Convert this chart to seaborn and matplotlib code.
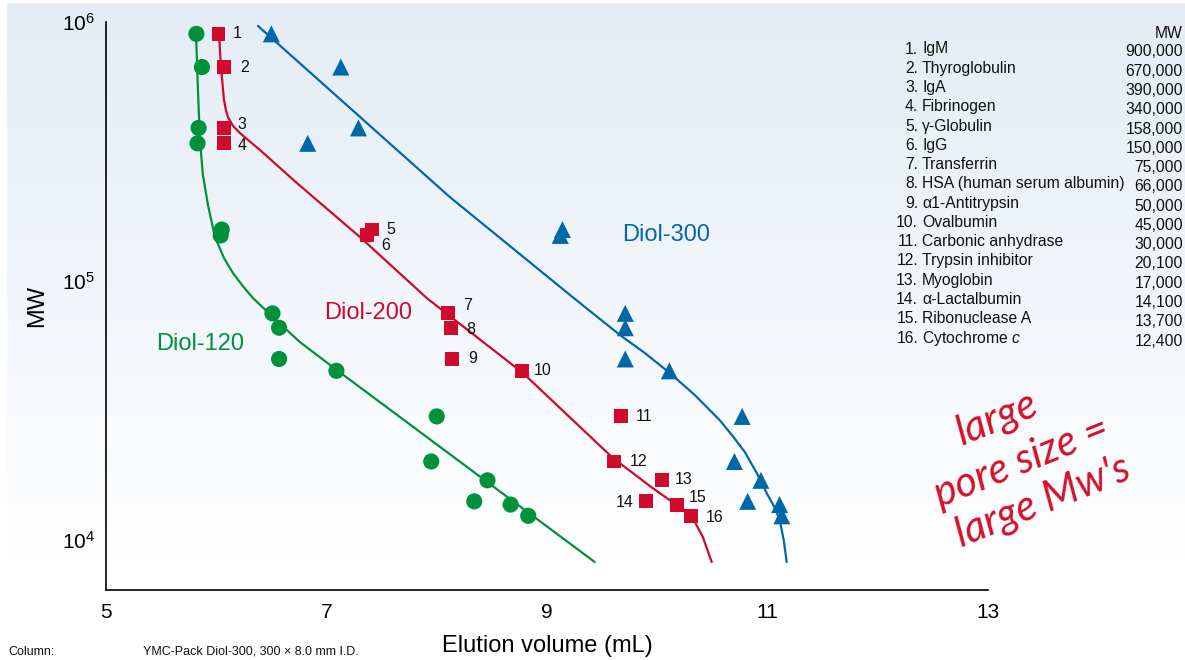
import numpy as np
import pandas as pd
import matplotlib
matplotlib.use("Agg")
import matplotlib.pyplot as plt
import seaborn as sns
from matplotlib.ticker import FixedLocator, NullLocator

# ---------------- data ----------------
proteins = ["IgM", "Thyroglobulin", "IgA", "Fibrinogen", "γ-Globulin", "IgG",
            "Transferrin", "HSA (human serum albumin)", "α1-Antitrypsin",
            "Ovalbumin", "Carbonic anhydrase", "Trypsin inhibitor", "Myoglobin",
            "α-Lactalbumin", "Ribonuclease A", r"Cytochrome $\mathit{c}$"]
mw = [900000, 670000, 390000, 340000, 158000, 150000, 75000, 66000, 50000,
      45000, 30000, 20100, 17000, 14100, 13700, 12400]
mw_text = ["900,000", "670,000", "390,000", "340,000", "158,000", "150,000",
           "75,000", "66,000", "50,000", "45,000", "30,000", "20,100",
           "17,000", "14,100", "13,700", "12,400"]

# elution volumes (mL) of each protein on the three columns
vol_diol120 = [5.82, 5.87, 5.84, 5.83, 6.05, 6.04, 6.51, 6.57, 6.57, 7.09,
               8.00, 7.95, 8.46, 8.34, 8.67, 8.83]
vol_diol200 = [6.02, 6.07, 6.07, 6.07, 7.41, 7.37, 8.10, 8.13, 8.14, 8.77,
               9.67, 9.61, 10.04, 9.90, 10.18, 10.31]
vol_diol300 = [6.50, 7.13, 7.29, 6.83, 9.14, 9.12, 9.71, 9.71, 9.71, 10.11,
               10.77, 10.70, 10.94, 10.82, 11.11, 11.13]

# calibration curves: elution volume vs log10(MW)
curve120_vol = [5.816, 5.825, 5.834, 5.852, 5.879, 5.925, 5.988, 6.070, 6.151,
                6.242, 6.333, 6.514, 6.759, 7.094, 9.433]
curve120_logmw = [5.961, 5.850, 5.737, 5.544, 5.409, 5.293, 5.170, 5.089,
                  5.031, 4.980, 4.934, 4.861, 4.764, 4.656, 3.915]
curve200_vol = [6.024, 6.043, 6.070, 6.088, 6.106, 6.150, 6.215, 6.396, 6.732,
                7.303, 7.910, 8.781, 9.597, 9.950, 10.113, 10.222, 10.322,
                10.413, 10.494]
curve200_logmw = [5.961, 5.826, 5.699, 5.660, 5.633, 5.600, 5.571, 5.506,
                  5.378, 5.170, 4.934, 4.645, 4.317, 4.203, 4.154, 4.122,
                  4.085, 4.012, 3.915]
curve300_vol = [6.378, 8.119, 9.252, 9.660, 9.887, 10.113, 10.340, 10.566,
                10.685, 10.794, 10.902, 10.993, 11.066, 11.111, 11.147, 11.174]
curve300_logmw = [5.985, 5.324, 4.931, 4.792, 4.722, 4.645, 4.560, 4.463,
                  4.401, 4.340, 4.259, 4.181, 4.124, 4.077, 4.000, 3.915]

# label offsets (pixels) for the numbered Diol-200 points
label_dx = [14, 16, 13, 14, 15, 14, 15, 15, 16, 12, 15, 15, 13, -13, 12, 14]
label_dy = [0, 0, 3, -2, 0, -10, 8, -2, 0, 0, 0, 0, 1, -1, 7, -2]

# ---------------- style ----------------
GREEN = "#00913b"
RED = "#cf0a2c"
BLUE = "#0068a9"
W, H = 1185, 660

sns.set_theme(style="white")
plt.rcParams["font.family"] = ["Liberation Sans", "DejaVu Sans"]
plt.rcParams["mathtext.fontset"] = "custom"
plt.rcParams["mathtext.rm"] = "Liberation Sans"
plt.rcParams["mathtext.it"] = "Liberation Sans:italic"
plt.rcParams["mathtext.bf"] = "Liberation Sans:bold"


def fx(px):
    return px / W


def fy(py):
    return 1 - py / H


fig = plt.figure(figsize=(W / 100, H / 100), dpi=100)
fig.patch.set_facecolor("white")

# soft blue background fading to white
bg = fig.add_axes([fx(7), 0, 1 - fx(7), fy(3)], zorder=-5)
grad = np.linspace(0, 1, 256)[:, None]
top = np.array([0.894, 0.925, 0.961])
bot = np.array([1.0, 1.0, 1.0])
t = np.clip(grad / 0.85, 0, 1)
img = top[None, None, :] * (1 - t[..., None]) + bot[None, None, :] * t[..., None]
bg.imshow(img, aspect="auto", extent=[0, 1, 0, 1], origin="upper")
bg.set_axis_off()

ax = fig.add_axes([fx(106), fy(590), fx(988) - fx(106), fy(22) - fy(590)])
ax.set_facecolor("none")

# calibration curves
for vols, logs, col in [(curve120_vol, curve120_logmw, GREEN),
                        (curve200_vol, curve200_logmw, RED),
                        (curve300_vol, curve300_logmw, BLUE)]:
    sns.lineplot(x=vols, y=10 ** np.array(logs), sort=False, estimator=None,
                 color=col, lw=1.6, ax=ax, zorder=2)
for ln in ax.lines:
    ln.set_solid_joinstyle("round")

# measured points
sns.scatterplot(x=vol_diol120, y=mw, marker="o", s=135, color=GREEN,
                edgecolor="none", ax=ax, zorder=3)
sns.scatterplot(x=vol_diol200, y=mw, marker="s", s=100, color=RED,
                edgecolor="none", ax=ax, zorder=3)
sns.scatterplot(x=vol_diol300, y=mw, marker="^", s=150, color=BLUE,
                edgecolor="none", ax=ax, zorder=3)

for i, (v, m) in enumerate(zip(vol_diol200, mw)):
    ax.annotate(str(i + 1), (v, m), xytext=(label_dx[i], label_dy[i]),
                textcoords="offset pixels", ha="left" if label_dx[i] > 0 else "right",
                va="center", fontsize=11.5, color="#111111", zorder=4)

ax.text(9.678, 150600, "Diol-300", color=BLUE, fontsize=17, ha="left", va="center")
ax.text(6.974, 75200, "Diol-200", color=RED, fontsize=17, ha="left", va="center")
ax.text(5.453, 57200, "Diol-120", color=GREEN, fontsize=17, ha="left", va="center")

ax.set_yscale("log")
ax.set_xlim(5, 13)
ax.set_ylim(10 ** 3.807, 1e6)
ax.xaxis.set_major_locator(FixedLocator([5, 7, 9, 11, 13]))
ax.set_xticklabels(["5", "7", "9", "11", "13"])
ax.yaxis.set_major_locator(FixedLocator([1e4, 1e5, 1e6]))
ax.yaxis.set_minor_locator(NullLocator())
ax.set_yticklabels([r"$\mathregular{10^{4}}$", r"$\mathregular{10^{5}}$",
                    r"$\mathregular{10^{6}}$"])
ax.tick_params(axis="both", direction="in", length=6, width=1.1, colors="black",
               labelsize=15, pad=8)
ax.tick_params(axis="x", pad=9)
for side in ["top", "right"]:
    ax.spines[side].set_visible(False)
for side in ["left", "bottom"]:
    ax.spines[side].set_color("black")
    ax.spines[side].set_linewidth(1.2)
ax.set_xlabel("Elution volume (mL)", fontsize=17, labelpad=10, color="black")
ax.set_ylabel("MW", fontsize=17, labelpad=10, color="black")
ax.grid(False)

# protein table
fig.text(fx(1183), fy(33), "MW", ha="right", va="center", fontsize=11.3, color="#111111")
for i, (name, val) in enumerate(zip(proteins, mw_text)):
    y = 49 + 19.27 * i
    fig.text(fx(918), fy(y), f"{i + 1}.", ha="right", va="center", fontsize=11.3,
             color="#111111")
    fig.text(fx(922), fy(y), name, ha="left", va="center", fontsize=11.3,
             color="#111111")
    fig.text(fx(1183), fy(y + 3), val, ha="right", va="center", fontsize=11.3,
             color="#111111")

# handwritten note
note_kw = dict(color="#d3112b", fontsize=30, rotation=22, ha="center",
               va="center", family=["Lato", "DejaVu Sans"], style="italic",
               weight="normal", rotation_mode="anchor")
fig.text(fx(997), fy(418), "large", **note_kw)
fig.text(fx(1022), fy(462), "pore size =", **note_kw)
fig.text(fx(1043), fy(502), "large Mw's", **note_kw)

# column info footer
fig.text(fx(8), fy(658), "Column:", ha="left", va="bottom", fontsize=9, color="#111111")
fig.text(fx(143), fy(658), "YMC-Pack Diol-300, 300 × 8.0 mm I.D.", ha="left",
         va="bottom", fontsize=9, color="#111111")

fig.savefig("out.png", dpi=100)
